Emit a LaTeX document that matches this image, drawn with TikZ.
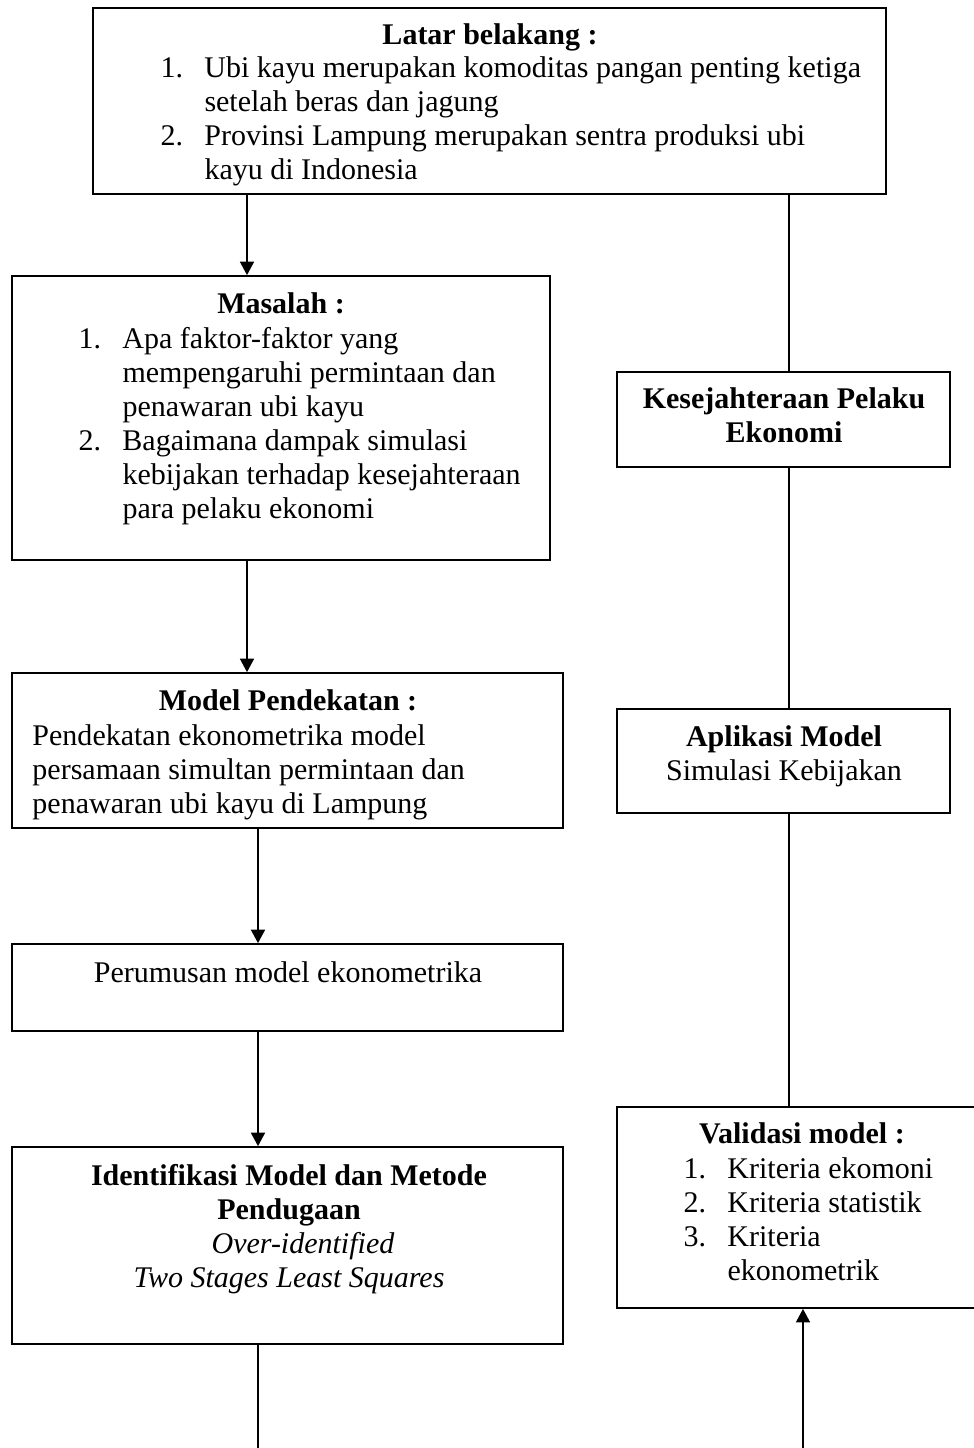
\documentclass[tikz,border=0pt]{standalone}
\usepackage{fontspec}
\setmainfont{Liberation Serif}
\usetikzlibrary{arrows.meta,fit}

\newdimen\px \px=0.4pt
\newenvironment{numlist}{\begin{tabular}[t]{@{}p{44\px}@{}l@{}}}{\end{tabular}}
\AtBeginDocument{\fontsize{12pt}{13.6pt}\selectfont}

\tikzset{
  box/.style={draw,line width=0.7pt,inner sep=0pt},
  head/.style={font=\bfseries,anchor=base,inner sep=0pt},
  ctext/.style={anchor=base,inner sep=0pt},
  ltext/.style={anchor=base west,inner sep=0pt},
  arr/.style={line width=0.7pt,-{Triangle[length=5.4pt,width=5.6pt]}},
  link/.style={line width=0.55pt}
}

\begin{document}
\begin{tikzpicture}[x=0.4pt,y=-0.4pt]
      \clip (0,0) rectangle (974,1448);

      % left column
      \node[box,fit={(93,8) (886,194)}] (latar) {};
      \node[head] (latarT) at (490,44) {Latar belakang :};
      \node[ltext] (latarL) at (160,77) {\begin{numlist}
          1. & Ubi kayu merupakan komoditas pangan penting ketiga\\
             & setelah beras dan jagung\\
          2. & Provinsi Lampung merupakan sentra produksi ubi\\
             & kayu di Indonesia
        \end{numlist}};

      \node[box,fit={(12,276) (550,560)}] (masalah) {};
      \node[head] (masalahT) at (281,313) {Masalah :};
      \node[ltext] (masalahL) at (78,348) {\begin{numlist}
          1. & Apa faktor-faktor yang\\
             & mempengaruhi permintaan dan\\
             & penawaran ubi kayu\\
          2. & Bagaimana dampak simulasi\\
             & kebijakan terhadap kesejahteraan\\
             & para pelaku ekonomi
        \end{numlist}};

      \node[box,fit={(12,673) (563,828)}] (model) {};
      \node[head] (modelT) at (288,710) {Model Pendekatan :};
      \node[ltext] (modelL) at (32,745) {\begin{tabular}[t]{@{}l@{}}
          Pendekatan ekonometrika model\\
          persamaan simultan permintaan dan\\
          penawaran ubi kayu di Lampung
        \end{tabular}};

      \node[box,fit={(12,944) (563,1031)}] (rumus) {};
      \node[ctext] (rumusT) at (288,982) {Perumusan model ekonometrika};

      \node[box,fit={(12,1147) (563,1344)}] (ident) {};
      \node[ctext] (identT) at (289,1185) {\begin{tabular}[t]{@{}c@{}}
          \textbf{Identifikasi Model dan Metode}\\
          \textbf{Pendugaan}\\
          \hspace{28\px}\textit{Over-identified}\\
          \textit{Two Stages Least Squares}
        \end{tabular}};

      % right column
      \node[box,fit={(617,372) (950,467)}] (sejahtera) {};
      \node[head] (sejahteraT) at (784,408) {\begin{tabular}[t]{@{}c@{}}
          Kesejahteraan Pelaku\\ Ekonomi
        \end{tabular}};

      \node[box,fit={(617,709) (950,813)}] (aplikasi) {};
      \node[ctext] (aplikasiT) at (784,746) {\begin{tabular}[t]{@{}c@{}}
          \textbf{Aplikasi Model}\\ Simulasi Kebijakan
        \end{tabular}};

      \node[box,fit={(617,1107) (990,1308)}] (valid) {};
      \node[head] (validT) at (802,1143) {Validasi model :};
      \node[ltext] (validL) at (683,1178) {\begin{numlist}
          1. & Kriteria ekomoni\\
          2. & Kriteria statistik\\
          3. & Kriteria\\
             & ekonometrik
        \end{numlist}};

      % connectors
      \coordinate (colA) at (247,0);
      \coordinate (colB) at (258,0);
      \coordinate (colC) at (789,0);
      \coordinate (colD) at (803,0);
      \coordinate (endL) at (258,1460);
      \coordinate (endR) at (803,1460);

      \draw[arr] (latar.south -| colA) -- (masalah.north -| colA);
      \draw[arr] (masalah.south -| colA) -- (model.north -| colA);
      \draw[arr] (model.south -| colB) -- (rumus.north -| colB);
      \draw[arr] (rumus.south -| colB) -- (ident.north -| colB);
      \draw[line width=0.7pt] (ident.south -| colB) -- (endL);

      \draw[link] (latar.south -| colC) -- (sejahtera.north -| colC);
      \draw[link] (sejahtera.south -| colC) -- (aplikasi.north -| colC);
      \draw[link] (aplikasi.south -| colC) -- (valid.north -| colC);
      \draw[arr] (endR) -- (valid.south -| colD);
    \end{tikzpicture}
\end{document}
